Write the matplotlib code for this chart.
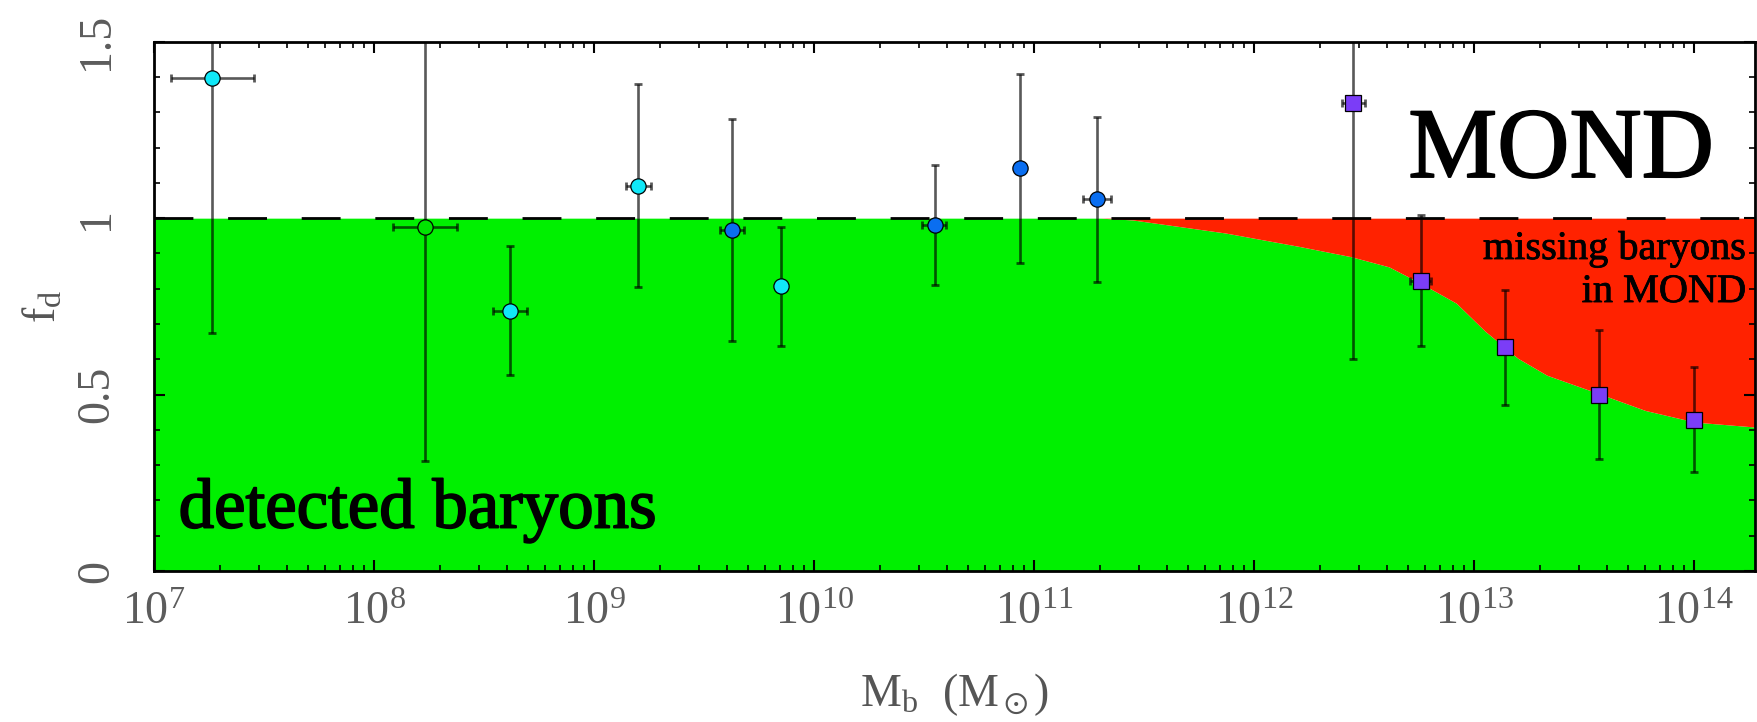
import numpy as np
import matplotlib
matplotlib.use('Agg')
import matplotlib.pyplot as plt
import matplotlib.patheffects as pe
from matplotlib.ticker import LogLocator, LogFormatterMathtext, MultipleLocator, FixedLocator

plt.rcParams['font.family'] = ['Liberation Serif', 'DejaVu Serif']
plt.rcParams['mathtext.fontset'] = 'custom'
plt.rcParams['mathtext.rm'] = 'Liberation Serif'
plt.rcParams['mathtext.it'] = 'Liberation Serif'

# data: baryonic mass (Msun), detected fraction f_d and its range
mass_cyan = [1.84e7, 4.14e8, 1.59e9, 7.05e9]
fd_cyan = [1.396, 0.737, 1.091, 0.808]
fd_cyan_lo = [0.675, 0.555, 0.804, 0.638]
fd_cyan_hi = [1.75, 0.922, 1.379, 0.976]
mass_cyan_lo = [1.19e7, 3.46e8, 1.40e9, 7.05e9]
mass_cyan_hi = [2.85e7, 4.98e8, 1.81e9, 7.05e9]

mass_green = [1.70e8]
fd_green = [0.974]
fd_green_lo = [0.313]
fd_green_hi = [1.75]
mass_green_lo = [1.22e8]
mass_green_hi = [2.37e8]

mass_blue = [4.24e9, 3.53e10, 8.59e10, 1.93e11]
fd_blue = [0.966, 0.982, 1.141, 1.053]
fd_blue_lo = [0.653, 0.812, 0.872, 0.818]
fd_blue_hi = [1.281, 1.152, 1.408, 1.287]
mass_blue_lo = [3.72e9, 3.09e10, 8.59e10, 1.66e11]
mass_blue_hi = [4.79e9, 3.98e10, 8.59e10, 2.24e11]

mass_clus = [2.81e12, 5.71e12, 1.38e13, 3.68e13, 1.0e14]
fd_clus = [1.325, 0.822, 0.636, 0.500, 0.427]
fd_clus_lo = [0.602, 0.638, 0.471, 0.318, 0.280]
fd_clus_hi = [1.75, 1.009, 0.796, 0.683, 0.579]
mass_clus_lo = [2.5e12, 5.1e12, 1.38e13, 3.68e13, 1.0e14]
mass_clus_hi = [3.2e12, 6.4e12, 1.38e13, 3.68e13, 1.0e14]

# boundary between detected and missing baryons
edge_mass = [1e7, 2.0e11, 2.8e11, 7.4e11, 1.6e12, 2.75e12, 4.1e12, 5.7e12,
             8.3e12, 1.12e13, 1.58e13, 2.14e13, 3.68e13, 6.0e13, 1.01e14, 1.9e14]
edge_fd = [1.0, 1.0, 0.995, 0.958, 0.92, 0.891, 0.862, 0.816,
           0.759, 0.68, 0.603, 0.555, 0.503, 0.455, 0.422, 0.408]

fig = plt.figure(figsize=(17.57, 7.22), dpi=100)
ax = fig.add_axes([0.0877, 0.2091, 0.9112, 0.7331])

ax.fill_between(edge_mass, 0, edge_fd, color='#00F000', lw=0, zorder=1)
ax.fill_between(edge_mass, edge_fd, 1.0, color='#FF2200', lw=0, zorder=1)
ax.axhline(1.0, color='black', lw=2, dashes=(14, 12.5), zorder=2)


def draw(m, m_lo, m_hi, f, f_lo, f_hi, color, marker, ms):
    m = np.array(m)
    f = np.array(f)
    xerr = [m - np.array(m_lo), np.array(m_hi) - m]
    yerr = [f - np.array(f_lo), np.array(f_hi) - f]
    ax.errorbar(m, f, xerr=xerr, yerr=yerr, fmt='none', ecolor=(0, 0, 0, 0.65),
                elinewidth=1.9, capsize=2.8, capthick=2, zorder=3)
    ax.plot(m, f, marker, ms=ms, mfc=color, mec='black', mew=0.9, ls='none', zorder=4)


draw(mass_cyan, mass_cyan_lo, mass_cyan_hi, fd_cyan, fd_cyan_lo, fd_cyan_hi, '#10E8F8', 'o', 11)
draw(mass_green, mass_green_lo, mass_green_hi, fd_green, fd_green_lo, fd_green_hi, '#00E400', 'o', 11)
draw(mass_blue, mass_blue_lo, mass_blue_hi, fd_blue, fd_blue_lo, fd_blue_hi, '#0A6EF0', 'o', 11)
draw(mass_clus, mass_clus_lo, mass_clus_hi, fd_clus, fd_clus_lo, fd_clus_hi, '#7B3DF7', 's', 11.5)

ax.set_xscale('log')
ax.set_xlim(1e7, 10 ** 14.277)
ax.set_ylim(0, 1.5)

ax.xaxis.set_major_locator(LogLocator(base=10, numticks=20))
ax.xaxis.set_minor_locator(LogLocator(base=10, subs=np.arange(2, 10), numticks=20))
ax.xaxis.set_major_formatter(LogFormatterMathtext())
ax.xaxis.set_minor_formatter(plt.NullFormatter())
ax.yaxis.set_major_locator(FixedLocator([0, 0.5, 1, 1.5]))
ax.yaxis.set_minor_locator(MultipleLocator(0.1))
ax.set_yticklabels(['0', '0.5', '1', '1.5'])

ax.tick_params(which='both', direction='in', top=True, right=True, color='black')
ax.tick_params(which='major', length=8, width=1.5)
ax.tick_params(which='minor', length=4, width=1.2)
ax.tick_params(axis='x', which='major', pad=15, labelsize=33, labelcolor='#5c5c5c')
ax.tick_params(axis='y', which='major', pad=26, labelsize=33, labelcolor='#5c5c5c', labelrotation=90)
for lab in ax.get_yticklabels():
    lab.set_va('center')

for s in ax.spines.values():
    s.set_linewidth(2)
    s.set_zorder(5)

ax.set_xlabel(r'$\mathregular{M_b\ \ (M_\odot)}$', fontsize=33, color='#555555')
ax.xaxis.set_label_coords(0.5, -0.19)
ax.xaxis.label.set_va('top')
ax.set_ylabel(r'$\mathregular{f_d}$', fontsize=33, color='#555555')
ax.yaxis.set_label_coords(-0.055, 0.5)

heavy = [pe.withStroke(linewidth=1.3, foreground='black')]
fig.text(0.9755, 0.7548, 'MOND', fontsize=72, ha='right', va='baseline',
         color='black', path_effects=heavy)
fig.text(0.1017, 0.2693, 'detected baryons', fontsize=51, ha='left', va='baseline',
         color='black', path_effects=heavy)
fig.text(0.9937, 0.6413, 'missing baryons', fontsize=29, ha='right', va='baseline',
         color='black', path_effects=[pe.withStroke(linewidth=0.6, foreground='black')])
fig.text(0.9937, 0.5817, 'in MOND', fontsize=29, ha='right', va='baseline',
         color='black', path_effects=[pe.withStroke(linewidth=0.6, foreground='black')])

fig.savefig('out.png', dpi=100)
